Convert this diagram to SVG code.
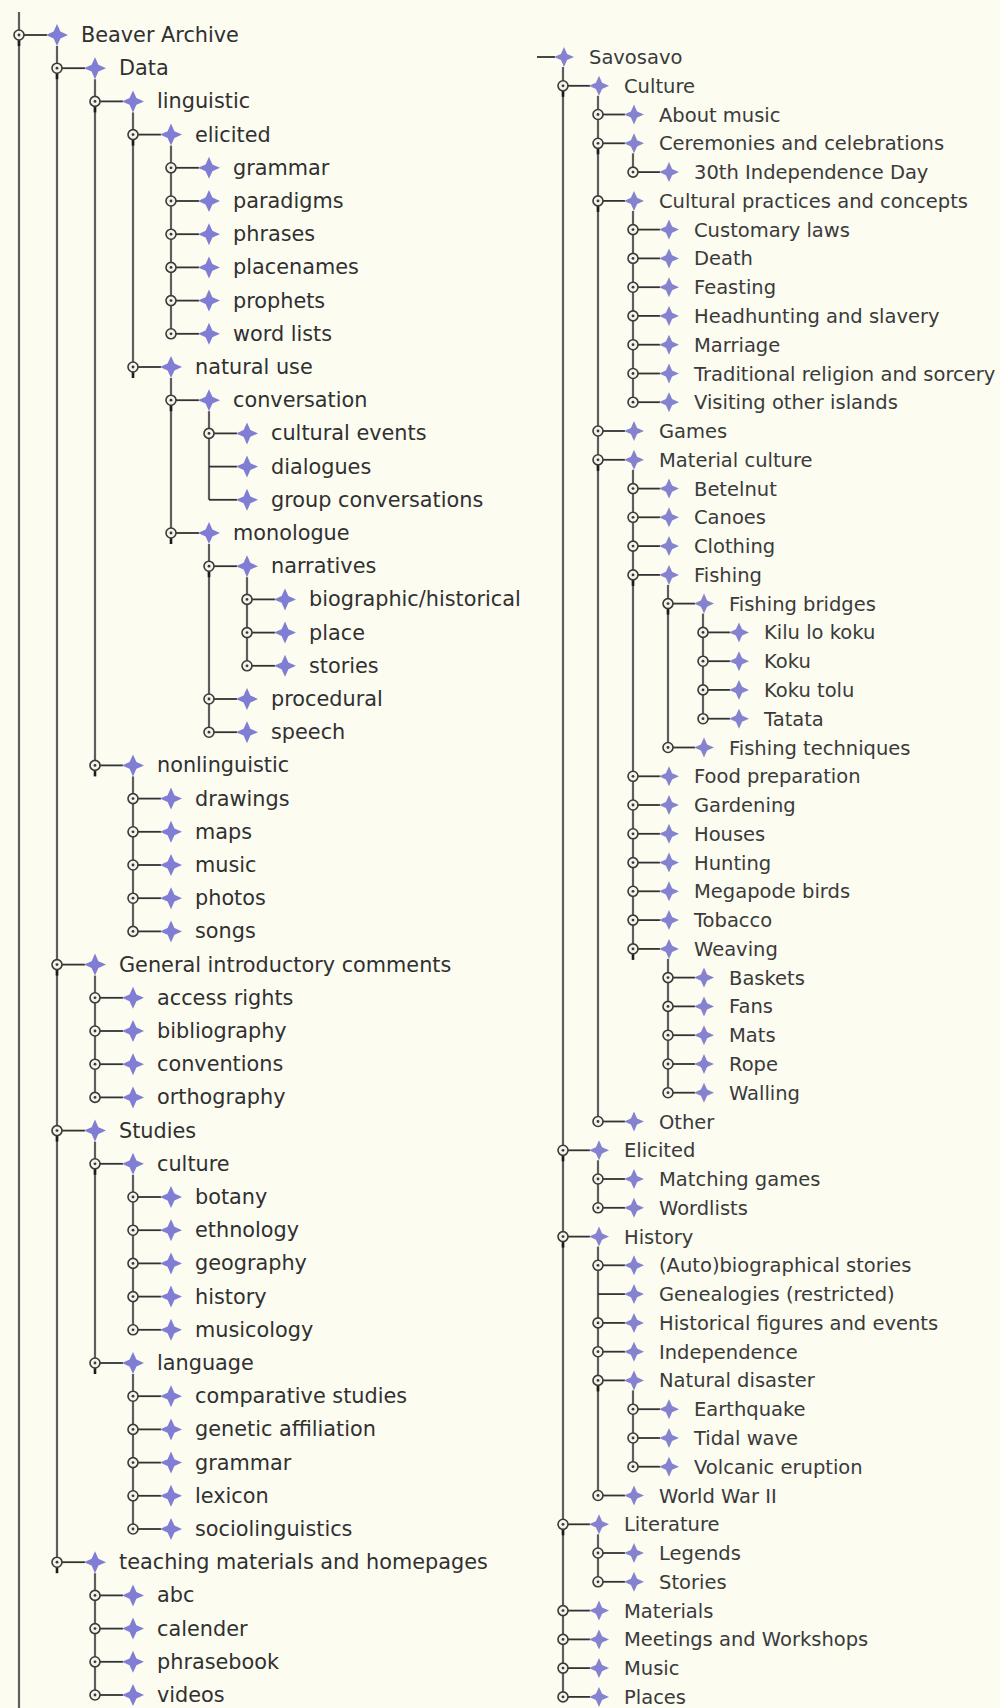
<svg xmlns="http://www.w3.org/2000/svg" xmlns:xlink="http://www.w3.org/1999/xlink" width="1000" height="1708" viewBox="0 0 1000 1708">
<style>
.bg{fill:#fcfcf1}
.v{stroke:#5e5e5e;stroke-width:2.2;fill:none}
.h{stroke:#333;stroke-width:1.8;fill:none}
.tl{font-family:"DejaVu Sans",Verdana,sans-serif;font-size:20.8px;fill:#303030}
.tr{font-family:"DejaVu Sans",Verdana,sans-serif;font-size:19.5px;fill:#3a3a3a}
</style>
<defs>
<g id="hc"><circle r="5" fill="#f4f4ea" stroke="#3a3a3a" stroke-width="1.6"/><circle r="1.4" fill="#3a3a3a"/></g>
<g id="he"><path d="M0 4 V11" stroke="#1c1c1c" stroke-width="2.6"/><circle r="5" fill="#f4f4ea" stroke="#3a3a3a" stroke-width="1.6"/><circle r="1.4" fill="#3a3a3a"/></g>
<path id="sL" d="M0,-11 L3.4,-3.4 L11,0 L3.4,3.4 L0,11 L-3.4,3.4 L-11,0 L-3.4,-3.4 Z" fill="#7f7dd4"/>
<path id="sR" d="M0,-10 L3.1,-3.1 L10,0 L3.1,3.1 L0,10 L-3.1,3.1 L-10,0 L-3.1,-3.1 Z" fill="#8583cf"/>
<path id="stL" d="M5 0 H28" class="h"/>
<path id="stLn" d="M0 0 H28" class="h"/>
<path id="stR" d="M5 0 H27" class="h"/>
<path id="stRn" d="M0 0 H27" class="h"/>
</defs>
<rect class="bg" x="0" y="0" width="1000" height="1708"/>

<g id="connectors">
<path class="v" d="M19 12 V1708"/>
<path class="v" d="M57 46 V1562.2"/>
<path class="v" d="M95 79.2 V765.4"/>
<path class="v" d="M133 112.4 V367"/>
<path class="v" d="M171 145.6 V333.8"/>
<path class="v" d="M171 378 V533"/>
<path class="v" d="M209 411.2 V499.8"/>
<path class="v" d="M209 544 V732.2"/>
<path class="v" d="M247 577.2 V665.8"/>
<path class="v" d="M133 776.4 V931.4"/>
<path class="v" d="M95 975.6 V1097.4"/>
<path class="v" d="M95 1141.6 V1363"/>
<path class="v" d="M133 1174.8 V1329.8"/>
<path class="v" d="M133 1374 V1529"/>
<path class="v" d="M95 1573.2 V1695"/>
<path class="v" d="M563 67 V1696.9"/>
<path class="v" d="M598 95.8 V1121.5"/>
<path class="v" d="M633 153.3 V172.1"/>
<path class="v" d="M633 210.9 V402.2"/>
<path class="v" d="M633 469.8 V948.9"/>
<path class="v" d="M668 584.9 V747.5"/>
<path class="v" d="M703 613.6 V718.7"/>
<path class="v" d="M668 958.9 V1092.7"/>
<path class="v" d="M598 1160.3 V1207.8"/>
<path class="v" d="M598 1246.6 V1495.5"/>
<path class="v" d="M633 1390.4 V1466.7"/>
<path class="v" d="M598 1534.3 V1581.8"/>
<path class="h" d="M537 57 H555" stroke="#666" stroke-width="2.4"/>
<use href="#stL" x="19" y="35"/>
<use href="#stL" x="57" y="68.2"/>
<use href="#stL" x="95" y="101.4"/>
<use href="#stL" x="133" y="134.6"/>
<use href="#stL" x="171" y="167.8"/>
<use href="#stL" x="171" y="201"/>
<use href="#stL" x="171" y="234.2"/>
<use href="#stL" x="171" y="267.4"/>
<use href="#stL" x="171" y="300.6"/>
<use href="#stL" x="171" y="333.8"/>
<use href="#stL" x="133" y="367"/>
<use href="#stL" x="171" y="400.2"/>
<use href="#stL" x="209" y="433.4"/>
<use href="#stLn" x="209" y="466.6"/>
<use href="#stLn" x="209" y="499.8"/>
<use href="#stL" x="171" y="533"/>
<use href="#stL" x="209" y="566.2"/>
<use href="#stL" x="247" y="599.4"/>
<use href="#stL" x="247" y="632.6"/>
<use href="#stL" x="247" y="665.8"/>
<use href="#stL" x="209" y="699"/>
<use href="#stL" x="209" y="732.2"/>
<use href="#stL" x="95" y="765.4"/>
<use href="#stL" x="133" y="798.6"/>
<use href="#stL" x="133" y="831.8"/>
<use href="#stL" x="133" y="865"/>
<use href="#stL" x="133" y="898.2"/>
<use href="#stL" x="133" y="931.4"/>
<use href="#stL" x="57" y="964.6"/>
<use href="#stL" x="95" y="997.8"/>
<use href="#stL" x="95" y="1031"/>
<use href="#stL" x="95" y="1064.2"/>
<use href="#stL" x="95" y="1097.4"/>
<use href="#stL" x="57" y="1130.6"/>
<use href="#stL" x="95" y="1163.8"/>
<use href="#stL" x="133" y="1197"/>
<use href="#stL" x="133" y="1230.2"/>
<use href="#stL" x="133" y="1263.4"/>
<use href="#stL" x="133" y="1296.6"/>
<use href="#stL" x="133" y="1329.8"/>
<use href="#stL" x="95" y="1363"/>
<use href="#stL" x="133" y="1396.2"/>
<use href="#stL" x="133" y="1429.4"/>
<use href="#stL" x="133" y="1462.6"/>
<use href="#stL" x="133" y="1495.8"/>
<use href="#stL" x="133" y="1529"/>
<use href="#stL" x="57" y="1562.2"/>
<use href="#stL" x="95" y="1595.4"/>
<use href="#stL" x="95" y="1628.6"/>
<use href="#stL" x="95" y="1661.8"/>
<use href="#stL" x="95" y="1695"/>
<use href="#stR" x="563" y="85.8"/>
<use href="#stR" x="598" y="114.5"/>
<use href="#stR" x="598" y="143.3"/>
<use href="#stR" x="633" y="172.1"/>
<use href="#stR" x="598" y="200.9"/>
<use href="#stR" x="633" y="229.6"/>
<use href="#stR" x="633" y="258.4"/>
<use href="#stR" x="633" y="287.2"/>
<use href="#stR" x="633" y="315.9"/>
<use href="#stR" x="633" y="344.7"/>
<use href="#stR" x="633" y="373.5"/>
<use href="#stR" x="633" y="402.2"/>
<use href="#stR" x="598" y="431"/>
<use href="#stR" x="598" y="459.8"/>
<use href="#stR" x="633" y="488.6"/>
<use href="#stR" x="633" y="517.3"/>
<use href="#stR" x="633" y="546.1"/>
<use href="#stR" x="633" y="574.9"/>
<use href="#stR" x="668" y="603.6"/>
<use href="#stR" x="703" y="632.4"/>
<use href="#stR" x="703" y="661.2"/>
<use href="#stR" x="703" y="689.9"/>
<use href="#stR" x="703" y="718.7"/>
<use href="#stR" x="668" y="747.5"/>
<use href="#stR" x="633" y="776.3"/>
<use href="#stR" x="633" y="805"/>
<use href="#stR" x="633" y="833.8"/>
<use href="#stR" x="633" y="862.6"/>
<use href="#stR" x="633" y="891.3"/>
<use href="#stR" x="633" y="920.1"/>
<use href="#stR" x="633" y="948.9"/>
<use href="#stR" x="668" y="977.6"/>
<use href="#stR" x="668" y="1006.4"/>
<use href="#stR" x="668" y="1035.2"/>
<use href="#stR" x="668" y="1064"/>
<use href="#stR" x="668" y="1092.7"/>
<use href="#stR" x="598" y="1121.5"/>
<use href="#stR" x="563" y="1150.3"/>
<use href="#stR" x="598" y="1179"/>
<use href="#stR" x="598" y="1207.8"/>
<use href="#stR" x="563" y="1236.6"/>
<use href="#stR" x="598" y="1265.3"/>
<use href="#stRn" x="598" y="1294.1"/>
<use href="#stR" x="598" y="1322.9"/>
<use href="#stR" x="598" y="1351.7"/>
<use href="#stR" x="598" y="1380.4"/>
<use href="#stR" x="633" y="1409.2"/>
<use href="#stR" x="633" y="1438"/>
<use href="#stR" x="633" y="1466.7"/>
<use href="#stR" x="598" y="1495.5"/>
<use href="#stR" x="563" y="1524.3"/>
<use href="#stR" x="598" y="1553"/>
<use href="#stR" x="598" y="1581.8"/>
<use href="#stR" x="563" y="1610.6"/>
<use href="#stR" x="563" y="1639.4"/>
<use href="#stR" x="563" y="1668.1"/>
<use href="#stR" x="563" y="1696.9"/>
</g>

<g id="left-tree">
<g id="n-beaver-archive" transform="translate(19 35)"><use href="#he"/><use href="#sL" x="38"/><text class="tl" x="62" y="7">Beaver Archive</text></g>
<g id="n-data" transform="translate(57 68.2)"><use href="#he"/><use href="#sL" x="38"/><text class="tl" x="62" y="7">Data</text></g>
<g id="n-linguistic" transform="translate(95 101.4)"><use href="#he"/><use href="#sL" x="38"/><text class="tl" x="62" y="7">linguistic</text></g>
<g id="n-elicited" transform="translate(133 134.6)"><use href="#he"/><use href="#sL" x="38"/><text class="tl" x="62" y="7">elicited</text></g>
<g id="n-grammar-1" transform="translate(171 167.8)"><use href="#hc"/><use href="#sL" x="38"/><text class="tl" x="62" y="7">grammar</text></g>
<g id="n-paradigms" transform="translate(171 201)"><use href="#hc"/><use href="#sL" x="38"/><text class="tl" x="62" y="7">paradigms</text></g>
<g id="n-phrases" transform="translate(171 234.2)"><use href="#hc"/><use href="#sL" x="38"/><text class="tl" x="62" y="7">phrases</text></g>
<g id="n-placenames" transform="translate(171 267.4)"><use href="#hc"/><use href="#sL" x="38"/><text class="tl" x="62" y="7">placenames</text></g>
<g id="n-prophets" transform="translate(171 300.6)"><use href="#hc"/><use href="#sL" x="38"/><text class="tl" x="62" y="7">prophets</text></g>
<g id="n-word-lists" transform="translate(171 333.8)"><use href="#hc"/><use href="#sL" x="38"/><text class="tl" x="62" y="7">word lists</text></g>
<g id="n-natural-use" transform="translate(133 367)"><use href="#he"/><use href="#sL" x="38"/><text class="tl" x="62" y="7">natural use</text></g>
<g id="n-conversation" transform="translate(171 400.2)"><use href="#he"/><use href="#sL" x="38"/><text class="tl" x="62" y="7">conversation</text></g>
<g id="n-cultural-events" transform="translate(209 433.4)"><use href="#hc"/><use href="#sL" x="38"/><text class="tl" x="62" y="7">cultural events</text></g>
<g id="n-dialogues" transform="translate(209 466.6)"><use href="#sL" x="38"/><text class="tl" x="62" y="7">dialogues</text></g>
<g id="n-group-conversations" transform="translate(209 499.8)"><use href="#sL" x="38"/><text class="tl" x="62" y="7">group conversations</text></g>
<g id="n-monologue" transform="translate(171 533)"><use href="#he"/><use href="#sL" x="38"/><text class="tl" x="62" y="7">monologue</text></g>
<g id="n-narratives" transform="translate(209 566.2)"><use href="#he"/><use href="#sL" x="38"/><text class="tl" x="62" y="7">narratives</text></g>
<g id="n-biographic-historical" transform="translate(247 599.4)"><use href="#hc"/><use href="#sL" x="38"/><text class="tl" x="62" y="7">biographic/historical</text></g>
<g id="n-place" transform="translate(247 632.6)"><use href="#hc"/><use href="#sL" x="38"/><text class="tl" x="62" y="7">place</text></g>
<g id="n-stories-1" transform="translate(247 665.8)"><use href="#hc"/><use href="#sL" x="38"/><text class="tl" x="62" y="7">stories</text></g>
<g id="n-procedural" transform="translate(209 699)"><use href="#hc"/><use href="#sL" x="38"/><text class="tl" x="62" y="7">procedural</text></g>
<g id="n-speech" transform="translate(209 732.2)"><use href="#hc"/><use href="#sL" x="38"/><text class="tl" x="62" y="7">speech</text></g>
<g id="n-nonlinguistic" transform="translate(95 765.4)"><use href="#he"/><use href="#sL" x="38"/><text class="tl" x="62" y="7">nonlinguistic</text></g>
<g id="n-drawings" transform="translate(133 798.6)"><use href="#hc"/><use href="#sL" x="38"/><text class="tl" x="62" y="7">drawings</text></g>
<g id="n-maps" transform="translate(133 831.8)"><use href="#hc"/><use href="#sL" x="38"/><text class="tl" x="62" y="7">maps</text></g>
<g id="n-music-1" transform="translate(133 865)"><use href="#hc"/><use href="#sL" x="38"/><text class="tl" x="62" y="7">music</text></g>
<g id="n-photos" transform="translate(133 898.2)"><use href="#hc"/><use href="#sL" x="38"/><text class="tl" x="62" y="7">photos</text></g>
<g id="n-songs" transform="translate(133 931.4)"><use href="#hc"/><use href="#sL" x="38"/><text class="tl" x="62" y="7">songs</text></g>
<g id="n-general" transform="translate(57 964.6)"><use href="#he"/><use href="#sL" x="38"/><text class="tl" x="62" y="7">General introductory comments</text></g>
<g id="n-access-rights" transform="translate(95 997.8)"><use href="#hc"/><use href="#sL" x="38"/><text class="tl" x="62" y="7">access rights</text></g>
<g id="n-bibliography" transform="translate(95 1031)"><use href="#hc"/><use href="#sL" x="38"/><text class="tl" x="62" y="7">bibliography</text></g>
<g id="n-conventions" transform="translate(95 1064.2)"><use href="#hc"/><use href="#sL" x="38"/><text class="tl" x="62" y="7">conventions</text></g>
<g id="n-orthography" transform="translate(95 1097.4)"><use href="#hc"/><use href="#sL" x="38"/><text class="tl" x="62" y="7">orthography</text></g>
<g id="n-studies" transform="translate(57 1130.6)"><use href="#he"/><use href="#sL" x="38"/><text class="tl" x="62" y="7">Studies</text></g>
<g id="n-culture-l" transform="translate(95 1163.8)"><use href="#he"/><use href="#sL" x="38"/><text class="tl" x="62" y="7">culture</text></g>
<g id="n-botany" transform="translate(133 1197)"><use href="#hc"/><use href="#sL" x="38"/><text class="tl" x="62" y="7">botany</text></g>
<g id="n-ethnology" transform="translate(133 1230.2)"><use href="#hc"/><use href="#sL" x="38"/><text class="tl" x="62" y="7">ethnology</text></g>
<g id="n-geography" transform="translate(133 1263.4)"><use href="#hc"/><use href="#sL" x="38"/><text class="tl" x="62" y="7">geography</text></g>
<g id="n-history-l" transform="translate(133 1296.6)"><use href="#hc"/><use href="#sL" x="38"/><text class="tl" x="62" y="7">history</text></g>
<g id="n-musicology" transform="translate(133 1329.8)"><use href="#hc"/><use href="#sL" x="38"/><text class="tl" x="62" y="7">musicology</text></g>
<g id="n-language" transform="translate(95 1363)"><use href="#he"/><use href="#sL" x="38"/><text class="tl" x="62" y="7">language</text></g>
<g id="n-comparative-studies" transform="translate(133 1396.2)"><use href="#hc"/><use href="#sL" x="38"/><text class="tl" x="62" y="7">comparative studies</text></g>
<g id="n-genetic-affiliation" transform="translate(133 1429.4)"><use href="#hc"/><use href="#sL" x="38"/><text class="tl" x="62" y="7">genetic affiliation</text></g>
<g id="n-grammar-2" transform="translate(133 1462.6)"><use href="#hc"/><use href="#sL" x="38"/><text class="tl" x="62" y="7">grammar</text></g>
<g id="n-lexicon" transform="translate(133 1495.8)"><use href="#hc"/><use href="#sL" x="38"/><text class="tl" x="62" y="7">lexicon</text></g>
<g id="n-sociolinguistics" transform="translate(133 1529)"><use href="#hc"/><use href="#sL" x="38"/><text class="tl" x="62" y="7">sociolinguistics</text></g>
<g id="n-teaching" transform="translate(57 1562.2)"><use href="#he"/><use href="#sL" x="38"/><text class="tl" x="62" y="7">teaching materials and homepages</text></g>
<g id="n-abc" transform="translate(95 1595.4)"><use href="#hc"/><use href="#sL" x="38"/><text class="tl" x="62" y="7">abc</text></g>
<g id="n-calender" transform="translate(95 1628.6)"><use href="#hc"/><use href="#sL" x="38"/><text class="tl" x="62" y="7">calender</text></g>
<g id="n-phrasebook" transform="translate(95 1661.8)"><use href="#hc"/><use href="#sL" x="38"/><text class="tl" x="62" y="7">phrasebook</text></g>
<g id="n-videos" transform="translate(95 1695)"><use href="#hc"/><use href="#sL" x="38"/><text class="tl" x="62" y="7">videos</text></g>
</g>

<g id="right-tree">
<g id="n-savosavo" transform="translate(528 57)"><use href="#sR" x="36"/><text class="tr" x="61" y="7">Savosavo</text></g>
<g id="n-culture-r" transform="translate(563 85.8)"><use href="#he"/><use href="#sR" x="36"/><text class="tr" x="61" y="7">Culture</text></g>
<g id="n-about-music" transform="translate(598 114.5)"><use href="#hc"/><use href="#sR" x="36"/><text class="tr" x="61" y="7">About music</text></g>
<g id="n-ceremonies" transform="translate(598 143.3)"><use href="#he"/><use href="#sR" x="36"/><text class="tr" x="61" y="7">Ceremonies and celebrations</text></g>
<g id="n-30th" transform="translate(633 172.1)"><use href="#hc"/><use href="#sR" x="36"/><text class="tr" x="61" y="7">30th Independence Day</text></g>
<g id="n-cultural-practices" transform="translate(598 200.9)"><use href="#he"/><use href="#sR" x="36"/><text class="tr" x="61" y="7">Cultural practices and concepts</text></g>
<g id="n-customary-laws" transform="translate(633 229.6)"><use href="#hc"/><use href="#sR" x="36"/><text class="tr" x="61" y="7">Customary laws</text></g>
<g id="n-death" transform="translate(633 258.4)"><use href="#hc"/><use href="#sR" x="36"/><text class="tr" x="61" y="7">Death</text></g>
<g id="n-feasting" transform="translate(633 287.2)"><use href="#hc"/><use href="#sR" x="36"/><text class="tr" x="61" y="7">Feasting</text></g>
<g id="n-headhunting" transform="translate(633 315.9)"><use href="#hc"/><use href="#sR" x="36"/><text class="tr" x="61" y="7">Headhunting and slavery</text></g>
<g id="n-marriage" transform="translate(633 344.7)"><use href="#hc"/><use href="#sR" x="36"/><text class="tr" x="61" y="7">Marriage</text></g>
<g id="n-traditional" transform="translate(633 373.5)"><use href="#hc"/><use href="#sR" x="36"/><text class="tr" x="61" y="7">Traditional religion and sorcery</text></g>
<g id="n-visiting" transform="translate(633 402.2)"><use href="#hc"/><use href="#sR" x="36"/><text class="tr" x="61" y="7">Visiting other islands</text></g>
<g id="n-games" transform="translate(598 431)"><use href="#hc"/><use href="#sR" x="36"/><text class="tr" x="61" y="7">Games</text></g>
<g id="n-material-culture" transform="translate(598 459.8)"><use href="#he"/><use href="#sR" x="36"/><text class="tr" x="61" y="7">Material culture</text></g>
<g id="n-betelnut" transform="translate(633 488.6)"><use href="#hc"/><use href="#sR" x="36"/><text class="tr" x="61" y="7">Betelnut</text></g>
<g id="n-canoes" transform="translate(633 517.3)"><use href="#hc"/><use href="#sR" x="36"/><text class="tr" x="61" y="7">Canoes</text></g>
<g id="n-clothing" transform="translate(633 546.1)"><use href="#hc"/><use href="#sR" x="36"/><text class="tr" x="61" y="7">Clothing</text></g>
<g id="n-fishing" transform="translate(633 574.9)"><use href="#he"/><use href="#sR" x="36"/><text class="tr" x="61" y="7">Fishing</text></g>
<g id="n-fishing-bridges" transform="translate(668 603.6)"><use href="#he"/><use href="#sR" x="36"/><text class="tr" x="61" y="7">Fishing bridges</text></g>
<g id="n-kilu-lo-koku" transform="translate(703 632.4)"><use href="#hc"/><use href="#sR" x="36"/><text class="tr" x="61" y="7">Kilu lo koku</text></g>
<g id="n-koku" transform="translate(703 661.2)"><use href="#hc"/><use href="#sR" x="36"/><text class="tr" x="61" y="7">Koku</text></g>
<g id="n-koku-tolu" transform="translate(703 689.9)"><use href="#hc"/><use href="#sR" x="36"/><text class="tr" x="61" y="7">Koku tolu</text></g>
<g id="n-tatata" transform="translate(703 718.7)"><use href="#hc"/><use href="#sR" x="36"/><text class="tr" x="61" y="7">Tatata</text></g>
<g id="n-fishing-techniques" transform="translate(668 747.5)"><use href="#hc"/><use href="#sR" x="36"/><text class="tr" x="61" y="7">Fishing techniques</text></g>
<g id="n-food-preparation" transform="translate(633 776.3)"><use href="#hc"/><use href="#sR" x="36"/><text class="tr" x="61" y="7">Food preparation</text></g>
<g id="n-gardening" transform="translate(633 805)"><use href="#hc"/><use href="#sR" x="36"/><text class="tr" x="61" y="7">Gardening</text></g>
<g id="n-houses" transform="translate(633 833.8)"><use href="#hc"/><use href="#sR" x="36"/><text class="tr" x="61" y="7">Houses</text></g>
<g id="n-hunting" transform="translate(633 862.6)"><use href="#hc"/><use href="#sR" x="36"/><text class="tr" x="61" y="7">Hunting</text></g>
<g id="n-megapode" transform="translate(633 891.3)"><use href="#hc"/><use href="#sR" x="36"/><text class="tr" x="61" y="7">Megapode birds</text></g>
<g id="n-tobacco" transform="translate(633 920.1)"><use href="#hc"/><use href="#sR" x="36"/><text class="tr" x="61" y="7">Tobacco</text></g>
<g id="n-weaving" transform="translate(633 948.9)"><use href="#he"/><use href="#sR" x="36"/><text class="tr" x="61" y="7">Weaving</text></g>
<g id="n-baskets" transform="translate(668 977.6)"><use href="#hc"/><use href="#sR" x="36"/><text class="tr" x="61" y="7">Baskets</text></g>
<g id="n-fans" transform="translate(668 1006.4)"><use href="#hc"/><use href="#sR" x="36"/><text class="tr" x="61" y="7">Fans</text></g>
<g id="n-mats" transform="translate(668 1035.2)"><use href="#hc"/><use href="#sR" x="36"/><text class="tr" x="61" y="7">Mats</text></g>
<g id="n-rope" transform="translate(668 1064)"><use href="#hc"/><use href="#sR" x="36"/><text class="tr" x="61" y="7">Rope</text></g>
<g id="n-walling" transform="translate(668 1092.7)"><use href="#hc"/><use href="#sR" x="36"/><text class="tr" x="61" y="7">Walling</text></g>
<g id="n-other" transform="translate(598 1121.5)"><use href="#hc"/><use href="#sR" x="36"/><text class="tr" x="61" y="7">Other</text></g>
<g id="n-elicited-r" transform="translate(563 1150.3)"><use href="#he"/><use href="#sR" x="36"/><text class="tr" x="61" y="7">Elicited</text></g>
<g id="n-matching-games" transform="translate(598 1179)"><use href="#hc"/><use href="#sR" x="36"/><text class="tr" x="61" y="7">Matching games</text></g>
<g id="n-wordlists" transform="translate(598 1207.8)"><use href="#hc"/><use href="#sR" x="36"/><text class="tr" x="61" y="7">Wordlists</text></g>
<g id="n-history-r" transform="translate(563 1236.6)"><use href="#he"/><use href="#sR" x="36"/><text class="tr" x="61" y="7">History</text></g>
<g id="n-autobiographical" transform="translate(598 1265.3)"><use href="#hc"/><use href="#sR" x="36"/><text class="tr" x="61" y="7">(Auto)biographical stories</text></g>
<g id="n-genealogies" transform="translate(598 1294.1)"><use href="#sR" x="36"/><text class="tr" x="61" y="7">Genealogies (restricted)</text></g>
<g id="n-historical-figures" transform="translate(598 1322.9)"><use href="#hc"/><use href="#sR" x="36"/><text class="tr" x="61" y="7">Historical figures and events</text></g>
<g id="n-independence" transform="translate(598 1351.7)"><use href="#hc"/><use href="#sR" x="36"/><text class="tr" x="61" y="7">Independence</text></g>
<g id="n-natural-disaster" transform="translate(598 1380.4)"><use href="#he"/><use href="#sR" x="36"/><text class="tr" x="61" y="7">Natural disaster</text></g>
<g id="n-earthquake" transform="translate(633 1409.2)"><use href="#hc"/><use href="#sR" x="36"/><text class="tr" x="61" y="7">Earthquake</text></g>
<g id="n-tidal-wave" transform="translate(633 1438)"><use href="#hc"/><use href="#sR" x="36"/><text class="tr" x="61" y="7">Tidal wave</text></g>
<g id="n-volcanic" transform="translate(633 1466.7)"><use href="#hc"/><use href="#sR" x="36"/><text class="tr" x="61" y="7">Volcanic eruption</text></g>
<g id="n-ww2" transform="translate(598 1495.5)"><use href="#hc"/><use href="#sR" x="36"/><text class="tr" x="61" y="7">World War II</text></g>
<g id="n-literature" transform="translate(563 1524.3)"><use href="#he"/><use href="#sR" x="36"/><text class="tr" x="61" y="7">Literature</text></g>
<g id="n-legends" transform="translate(598 1553)"><use href="#hc"/><use href="#sR" x="36"/><text class="tr" x="61" y="7">Legends</text></g>
<g id="n-stories-r" transform="translate(598 1581.8)"><use href="#hc"/><use href="#sR" x="36"/><text class="tr" x="61" y="7">Stories</text></g>
<g id="n-materials" transform="translate(563 1610.6)"><use href="#hc"/><use href="#sR" x="36"/><text class="tr" x="61" y="7">Materials</text></g>
<g id="n-meetings" transform="translate(563 1639.4)"><use href="#hc"/><use href="#sR" x="36"/><text class="tr" x="61" y="7">Meetings and Workshops</text></g>
<g id="n-music-r" transform="translate(563 1668.1)"><use href="#hc"/><use href="#sR" x="36"/><text class="tr" x="61" y="7">Music</text></g>
<g id="n-places" transform="translate(563 1696.9)"><use href="#hc"/><use href="#sR" x="36"/><text class="tr" x="61" y="7">Places</text></g>
</g>
</svg>
